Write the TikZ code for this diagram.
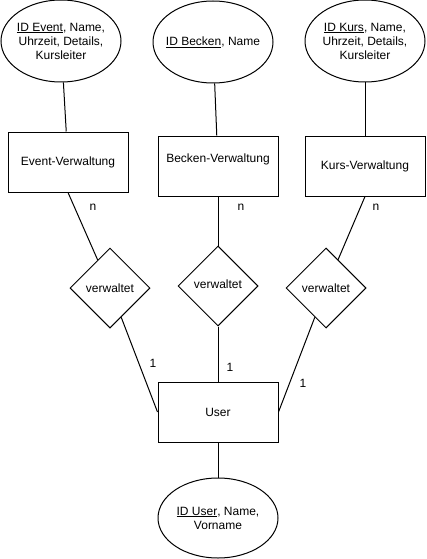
\documentclass[tikz,border=0pt]{standalone}
\usepackage{fontspec}
\setmainfont{Liberation Sans}
\usetikzlibrary{shapes.geometric,positioning}
\tikzset{
   er diagram/.style={%pixel grid of the sketch, y pointing down
      x=1pt, y=-1pt,
      line width=1pt,
      font=\fontsize{12}{14}\selectfont
      },
   entity/.style={draw, rectangle, minimum width=120pt, minimum height=60pt, inner sep=0pt},
   attr/.style={draw, ellipse, minimum width=120pt, minimum height=#1,
      inner xsep=-5pt, inner ysep=0pt, align=center},
   attr/.default=82pt,
   rel/.style={draw, diamond, minimum width=80pt, minimum height=80pt, inner sep=0pt},
   card/.style={inner sep=0pt}
}
\begin{document}
\begin{tikzpicture}[er diagram]
    \useasboundingbox (0,0) rectangle (426,559);
    % Attribute ellipses on top
    \node[attr] (attrEvent) at (61,41) {\underline{ID Event}, Name,\\Uhrzeit, Details,\\Kursleiter};
    \node[attr] (attrBecken) at (213,42) {\underline{ID Becken}, Name};
    \node[attr] (attrKurs) at (365,41) {\underline{ID Kurs}, Name,\\Uhrzeit, Details,\\Kursleiter};

    % Entities
    \node[entity] (event) at (68,162) {Event-Verwaltung};
    \node[entity, label={[yshift=7pt]center:Becken-Verwaltung}] (becken) at (218,166) {};
    \node[entity] (kurs) at (365,166) {Kurs-Verwaltung};
    \node[entity] (user) at (218,412) {User};

    % Relationships
    \node[rel] (relEvent) at (110,288) {verwaltet};
    \node[rel, label={[yshift=2pt]center:verwaltet}] (relBecken) at (218,286) {};
    \node[rel] (relKurs) at (326,288) {verwaltet};

    % User attributes
    \node[attr=80pt] (attrUser) at (218,518) {\underline{ID User}, Name,\\Vorname};

    % Attributes to entities
    \draw (attrEvent) -- (event);
    \draw (attrBecken) -- (becken);
    \draw (attrKurs) -- (kurs);
    \draw (user) -- (attrUser);

    % Entities to relationships
    \draw (event.south) -- (relEvent);
    \draw (becken) -- (relBecken);
    \draw (kurs.south) -- (relKurs);
    \draw (relEvent) -- (user.west);
    \draw (relBecken) -- (user);
    \draw (relKurs) -- (user.east);

    % Cardinalities
    \node[card] (nEvent) at (93,207) {n};
    \node[card] (nBecken) at (241,207) {n};
    \node[card] (nKurs) at (376,207) {n};
    \node[card] (oneEvent) at (153,363) {1};
    \node[card] (oneBecken) at (230,367) {1};
    \node[card] (oneKurs) at (303,383) {1};
\end{tikzpicture}
\end{document}
